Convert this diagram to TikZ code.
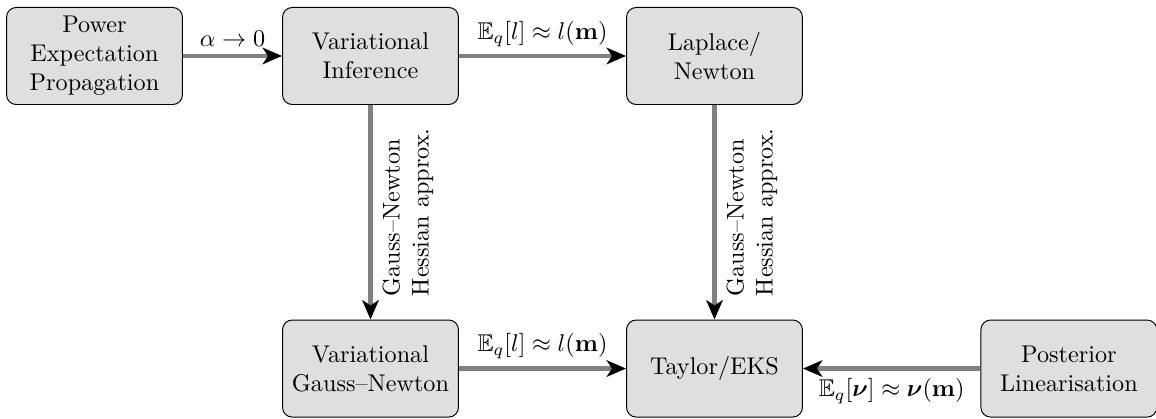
\documentclass[tikz,border=0pt]{standalone}
\usepackage{amsmath,amssymb,bm}
\usetikzlibrary{arrows.meta}
\begin{document}
\begin{tikzpicture}[x=1pt,y=1pt,
  box/.style={draw=black, fill=gray!25, rounded corners=4pt, align=center,
    minimum width=72.7pt, minimum height=40.1pt, inner sep=2pt},
  conn/.style={draw=gray, line width=2pt,
    -{Stealth[black,length=8pt,width=6.8pt,inset=2.2pt]}},
  lab/.style={font=\normalsize, inner sep=3pt},
  vlab/.style={lab, rotate=90, anchor=north, align=left, inner sep=4pt}]
\useasboundingbox (0,0) rectangle (477.7,-173.1);
\node[box] (pep) at (39.05,-23.14) {Power\\Expectation\\Propagation};
\node[box] (vi) at (153.1,-23.14) {Variational\\Inference};
\node[box] (lap) at (295.25,-23.14) {Laplace/\\Newton};
\node[box] (vgn) at (153.1,-152.3) {Variational\\Gauss--Newton};
\node[box] (tay) at (295.25,-152.3) {Taylor/EKS};
\node[box] (pl) at (441.7,-152.3) {Posterior\\Linearisation};
\draw[conn] (pep) -- node[lab,above] {$\alpha\to 0$} (vi);
\draw[conn] (vi) -- node[lab,above] {$\mathbb{E}_q[l]\approx l(\mathbf{m})$} (lap);
\draw[conn] (vgn) -- node[lab,above] {$\mathbb{E}_q[l]\approx l(\mathbf{m})$} (tay);
\draw[conn] (pl) -- node[lab,below] {$\mathbb{E}_q[\bm{\nu}]\approx \bm{\nu}(\mathbf{m})$} (tay);
\draw[conn] (vi) -- node[vlab] {Gauss--Newton\\Hessian approx.} (vgn);
\draw[conn] (lap) -- node[vlab] {Gauss--Newton\\Hessian approx.} (tay);
\end{tikzpicture}
\end{document}
